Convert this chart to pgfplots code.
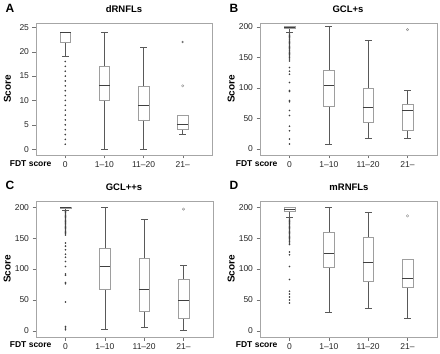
\documentclass[border=0pt]{standalone}
\usepackage{pgfplots}
\pgfplotsset{compat=1.18}
\usepgfplotslibrary{statistics}
\usepackage{fontspec}
\setmainfont{Liberation Sans}

\pgfplotsset{
  panel/.style={
    scale only axis,
    anchor=south west,
    xmin=-0.75, xmax=3.75,
    xtick={0,1,2,3},
    xticklabels={0,1--10,11--20,21--},
    axis line style={black!35},
    tick style={black!55},
    tick align=outside,
    xtick pos=bottom, ytick pos=left,
    major tick length=3.5pt,
    tick label style={font=\fontsize{8.5}{10}\selectfont, text=black!85},
    /pgf/number format/assume math mode=true,
    ylabel={Score},
    ylabel style={font=\bfseries\fontsize{10}{12}\selectfont,
      at={(axis description cs:-0.163,0.5)}, anchor=center},
    clip=false,
    boxplot/draw direction=y,
    boxplot/box extend=0.27,
    boxplot/whisker extend=0.17,
    boxplot/every box/.style={draw=black!38, line width=0.6pt},
    boxplot/every whisker/.style={draw=black!65, line width=0.6pt},
    boxplot/every median/.style={draw=black!75, line width=0.9pt},
  },
  bx/.style={solid, mark=*, mark size=0.6pt,
    mark options={draw=black!75, fill=black!75}},
  bxo/.style={solid, mark=o, mark size=1.2pt,
    mark options={draw=black!45, fill=none}},
}
\tikzset{
  fdt/.style={anchor=base east, font=\bfseries\fontsize{8.5}{10}\selectfont},
  plab/.style={anchor=north west, font=\bfseries\fontsize{12}{14}\selectfont},
  ptitle/.style={font=\bfseries\fontsize{9.5}{11}\selectfont},
}

\begin{document}
\begin{tikzpicture}
\useasboundingbox (0,0) rectangle (440pt,354pt);

% ---------- A: dRNFLs ----------
\begin{axis}[panel, at={(36pt,199pt)}, width=176pt, height=132pt,
  ymin=-1.2, ymax=25.9, ytick={0,5,10,15,20,25}]
\addplot+[bx, boxplot prepared={draw position=0,
    lower whisker=19, lower quartile=22, median=24,
    upper quartile=24, upper whisker=24}]
  coordinates {(0,18) (0,17) (0,16) (0,15) (0,14) (0,13) (0,12) (0,11)
    (0,10) (0,9) (0,8) (0,7) (0,6) (0,5) (0,4) (0,3) (0,2) (0,1)};
\addplot+[bx, boxplot prepared={draw position=1,
    lower whisker=0, lower quartile=10, median=13,
    upper quartile=17, upper whisker=24}] coordinates {};
\addplot+[bx, boxplot prepared={draw position=2,
    lower whisker=0, lower quartile=6, median=9,
    upper quartile=13, upper whisker=21}] coordinates {};
\addplot+[bxo, boxplot prepared={draw position=3,
    lower whisker=3, lower quartile=4, median=5,
    upper quartile=7, upper whisker=7}] coordinates {(3,13)};
\addplot[only marks, mark=asterisk, mark size=1.1pt, draw=black!60]
  coordinates {(3,22)};
\end{axis}
\node[ptitle] at (124pt,345pt) {dRNFLs};
\node[plab] at (2pt,353pt) {A};
\node[fdt] at (55pt,187pt) {FDT score};

% ---------- B: GCL+s ----------
\begin{axis}[panel, at={(260pt,199pt)}, width=177pt, height=132pt,
  ymin=-10, ymax=206, ytick={0,50,100,150,200}]
\addplot+[bx, boxplot prepared={draw position=0,
    lower whisker=190, lower quartile=197, median=198.5,
    upper quartile=200, upper whisker=200}]
  coordinates {(0,188) (0,186) (0,184) (0,182) (0,180) (0,178) (0,176)
    (0,174) (0,172) (0,170) (0,168) (0,166) (0,164) (0,162) (0,160)
    (0,158) (0,156) (0,154) (0,152) (0,150) (0,147) (0,144)
    (0,133) (0,127) (0,122) (0,108.5) (0,95.5) (0,94) (0,79) (0,77)
    (0,63) (0,54.5) (0,37) (0,29.6) (0,16) (0,8)};
\addplot+[bx, boxplot prepared={draw position=1,
    lower whisker=7.5, lower quartile=69, median=103,
    upper quartile=129, upper whisker=200}] coordinates {};
\addplot+[bx, boxplot prepared={draw position=2,
    lower whisker=18, lower quartile=43, median=68,
    upper quartile=99, upper whisker=178}] coordinates {};
\addplot+[bxo, boxplot prepared={draw position=3,
    lower whisker=18, lower quartile=30, median=62.5,
    upper quartile=73.5, upper whisker=96}] coordinates {(3,195)};
\end{axis}
\node[ptitle] at (348pt,345pt) {GCL+s};
\node[plab] at (226pt,353pt) {B};
\node[fdt] at (281pt,187pt) {FDT score};

% ---------- C: GCL++s ----------
\begin{axis}[panel, at={(36pt,17pt)}, width=177pt, height=136pt,
  ymin=-10, ymax=210, ytick={0,50,100,150,200}]
\addplot+[bx, boxplot prepared={draw position=0,
    lower whisker=195, lower quartile=197.5, median=199,
    upper quartile=200, upper whisker=200}]
  coordinates {(0,193) (0,191) (0,189) (0,187) (0,185) (0,183) (0,181)
    (0,179) (0,177) (0,175) (0,173) (0,171) (0,169) (0,167) (0,165)
    (0,163) (0,161) (0,159) (0,157) (0,155)
    (0,142) (0,137) (0,131) (0,124) (0,119) (0,112) (0,104) (0,92)
    (0,90) (0,78) (0,76) (0,46.5) (0,7) (0,4.4) (0,1.6)};
\addplot+[bx, boxplot prepared={draw position=1,
    lower whisker=3, lower quartile=67, median=104,
    upper quartile=134, upper whisker=200}] coordinates {};
\addplot+[bx, boxplot prepared={draw position=2,
    lower whisker=6, lower quartile=32, median=67,
    upper quartile=118, upper whisker=180}] coordinates {};
\addplot+[bxo, boxplot prepared={draw position=3,
    lower whisker=1, lower quartile=20.5, median=49,
    upper quartile=84, upper whisker=106.5}] coordinates {(3,197)};
\end{axis}
\node[ptitle] at (124pt,167pt) {GCL++s};
\node[plab] at (2pt,176pt) {C};
\node[fdt] at (55pt,6pt) {FDT score};

% ---------- D: mRNFLs ----------
\begin{axis}[panel, at={(260pt,17pt)}, width=177pt, height=136pt,
  ymin=-10, ymax=210, ytick={0,50,100,150,200}]
\addplot+[bx, boxplot prepared={draw position=0,
    lower whisker=183, lower quartile=193.5, median=197,
    upper quartile=200, upper whisker=200}]
  coordinates {(0,181) (0,179) (0,177) (0,175) (0,173) (0,171) (0,169)
    (0,167) (0,165) (0,163) (0,161) (0,159) (0,157) (0,155) (0,153)
    (0,151) (0,149) (0,147) (0,145) (0,142) (0,139.5)
    (0,127.6) (0,123) (0,104) (0,83) (0,64) (0,59.5) (0,54.7) (0,50) (0,45)};
\addplot+[bx, boxplot prepared={draw position=1,
    lower whisker=30, lower quartile=102, median=125,
    upper quartile=160, upper whisker=200}] coordinates {};
\addplot+[bx, boxplot prepared={draw position=2,
    lower whisker=37, lower quartile=80.5, median=111,
    upper quartile=152, upper whisker=192}] coordinates {};
\addplot+[bxo, boxplot prepared={draw position=3,
    lower whisker=20.5, lower quartile=70.5, median=84,
    upper quartile=116, upper whisker=116}] coordinates {(3,186)};
\end{axis}
\node[ptitle] at (349pt,167pt) {mRNFLs};
\node[plab] at (226pt,176pt) {D};
\node[fdt] at (281pt,6pt) {FDT score};
\end{tikzpicture}
\end{document}
